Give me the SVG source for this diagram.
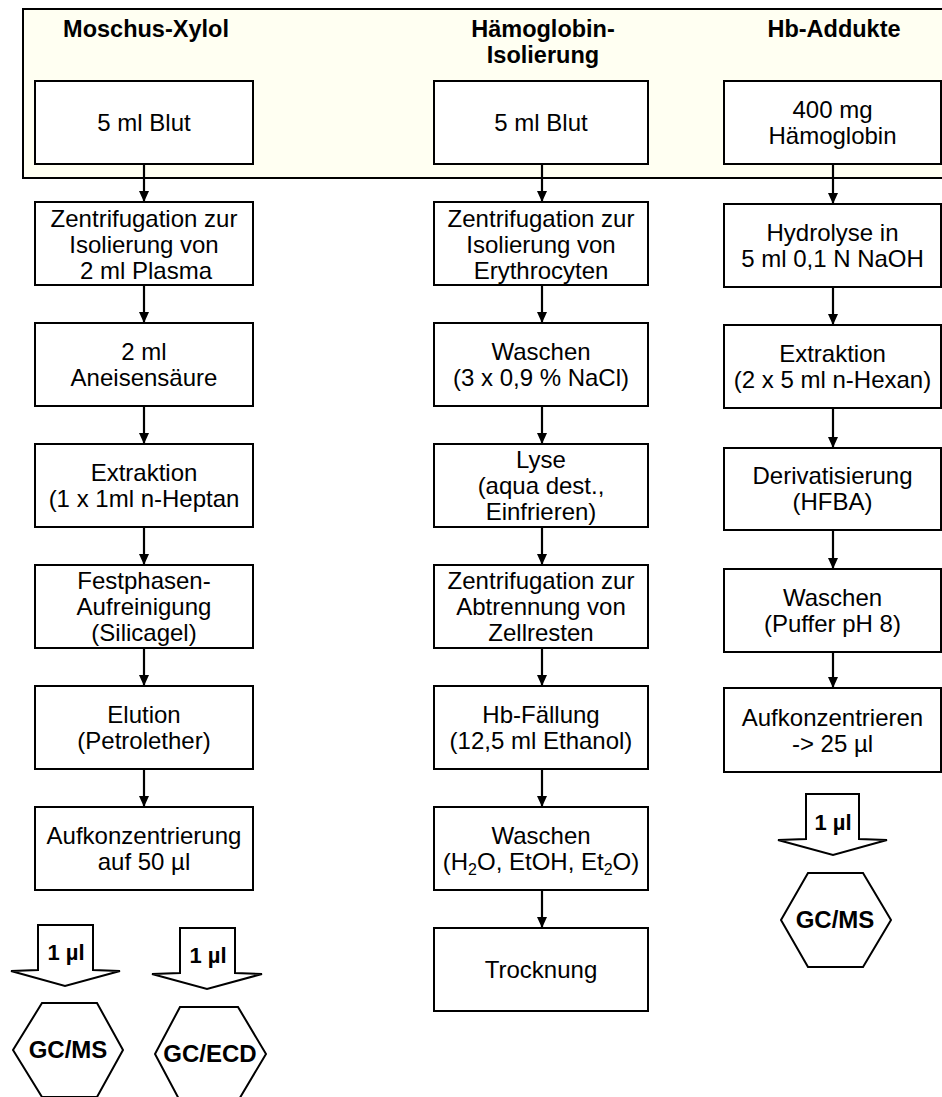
<svg xmlns="http://www.w3.org/2000/svg" width="942" height="1097" viewBox="0 0 942 1097">
<defs>
<style>
.box{fill:#fff;stroke:#000;stroke-width:2}
.t{font-family:"Liberation Sans",Arial,sans-serif;font-size:24px;fill:#000;text-anchor:middle}
.h{font-family:"Liberation Sans",Arial,sans-serif;font-size:23.5px;font-weight:bold;fill:#000;text-anchor:middle}
.b{font-family:"Liberation Sans",Arial,sans-serif;font-size:22px;font-weight:bold;fill:#000;text-anchor:middle}
.hx{font-family:"Liberation Sans",Arial,sans-serif;font-size:24px;font-weight:bold;fill:#000;text-anchor:middle}
.shape{fill:#fff;stroke:#000;stroke-width:2;stroke-linejoin:miter}
.conn line{stroke:#000;stroke-width:2.2;marker-end:url(#ah)}
.sub{font-size:16px}
</style>
<marker id="ah" viewBox="0 0 11 10" markerWidth="11" markerHeight="10" refX="11" refY="5" orient="auto" markerUnits="userSpaceOnUse">
<path d="M0,0 L11,5 L0,10 z" fill="#000"/>
</marker>
</defs>
<rect width="942" height="1097" fill="#fff"/>
<g id="panel">
<rect x="23" y="9" width="930" height="169" fill="#fffff2" stroke="#000" stroke-width="2"/>
<text class="h" x="146" y="37">Moschus-Xylol</text>
<text class="h" x="543" y="37">Hämoglobin-</text>
<text class="h" x="543" y="63">Isolierung</text>
<text class="h" x="834" y="37">Hb-Addukte</text>
</g>
<!-- Column 1 -->
<g id="c1n1"><rect class="box" x="35" y="81" width="218" height="83"/><text class="t" x="144" y="131">5 ml Blut</text></g>
<g id="c1n2"><rect class="box" x="35" y="202" width="218" height="83"/><text class="t" x="144" y="227">Zentrifugation zur</text><text class="t" x="144" y="253">Isolierung von</text><text class="t" x="146" y="279">2 ml Plasma</text></g>
<g id="c1n3"><rect class="box" x="35" y="323" width="218" height="83"/><text class="t" x="144" y="360">2 ml</text><text class="t" x="144" y="386">Aneisensäure</text></g>
<g id="c1n4"><rect class="box" x="35" y="444" width="218" height="83"/><text class="t" x="144" y="481">Extraktion</text><text class="t" x="144" y="507">(1 x 1ml n-Heptan</text></g>
<g id="c1n5"><rect class="box" x="35" y="565" width="218" height="83"/><text class="t" x="144" y="589">Festphasen-</text><text class="t" x="144" y="615">Aufreinigung</text><text class="t" x="144" y="641">(Silicagel)</text></g>
<g id="c1n6"><rect class="box" x="35" y="686" width="218" height="83"/><text class="t" x="144" y="723">Elution</text><text class="t" x="144" y="749">(Petrolether)</text></g>
<g id="c1n7"><rect class="box" x="35" y="807" width="218" height="83"/><text class="t" x="144" y="844">Aufkonzentrierung</text><text class="t" x="144" y="870">auf 50 µl</text></g>
<g id="c1a1"><path class="shape" d="M38,925 L93,925 L93,970 L120,971 L65,986 L11,971 L38,970 Z"/><text class="b" x="66" y="960">1 µl</text></g>
<g id="c1a2"><path class="shape" d="M180,928 L235,928 L235,973 L262,974 L207,989 L152,974 L180,973 Z"/><text class="b" x="208" y="963">1 µl</text></g>
<g id="c1h1"><path class="shape" d="M42,1003 L97,1003 L123,1050 L97,1097 L42,1097 L13,1050 Z"/><text class="hx" x="68" y="1058">GC/MS</text></g>
<g id="c1h2"><path class="shape" d="M180,1007 L238,1007 L266,1054 L238,1101 L180,1101 L155,1054 Z"/><text class="hx" x="210" y="1062">GC/ECD</text></g>
<!-- Column 2 -->
<g id="c2n1"><rect class="box" x="434" y="81" width="214" height="83"/><text class="t" x="541" y="131">5 ml Blut</text></g>
<g id="c2n2"><rect class="box" x="434" y="202" width="214" height="83"/><text class="t" x="541" y="227">Zentrifugation zur</text><text class="t" x="541" y="253">Isolierung von</text><text class="t" x="541" y="279">Erythrocyten</text></g>
<g id="c2n3"><rect class="box" x="434" y="323" width="214" height="83"/><text class="t" x="541" y="360">Waschen</text><text class="t" x="541" y="386">(3 x 0,9 % NaCl)</text></g>
<g id="c2n4"><rect class="box" x="434" y="444" width="214" height="83"/><text class="t" x="541" y="468">Lyse</text><text class="t" x="541" y="494">(aqua dest.,</text><text class="t" x="541" y="520">Einfrieren)</text></g>
<g id="c2n5"><rect class="box" x="434" y="565" width="214" height="83"/><text class="t" x="541" y="589">Zentrifugation zur</text><text class="t" x="541" y="615">Abtrennung von</text><text class="t" x="541" y="641">Zellresten</text></g>
<g id="c2n6"><rect class="box" x="434" y="686" width="214" height="83"/><text class="t" x="541" y="723">Hb-Fällung</text><text class="t" x="541" y="749">(12,5 ml Ethanol)</text></g>
<g id="c2n7"><rect class="box" x="434" y="807" width="214" height="83"/><text class="t" x="541" y="844">Waschen</text><text class="t" x="541" y="870">(H<tspan class="sub" dy="5">2</tspan><tspan dy="-5">O, EtOH, Et</tspan><tspan class="sub" dy="5">2</tspan><tspan dy="-5">O)</tspan></text></g>
<g id="c2n8"><rect class="box" x="434" y="928" width="214" height="83"/><text class="t" x="541" y="978">Trocknung</text></g>
<!-- Column 3 -->
<g id="c3n1"><rect class="box" x="724" y="81" width="217" height="83"/><text class="t" x="832.5" y="118">400 mg</text><text class="t" x="832.5" y="144">Hämoglobin</text></g>
<g id="c3n2"><rect class="box" x="724" y="204" width="217" height="83"/><text class="t" x="832.5" y="241">Hydrolyse in</text><text class="t" x="832.5" y="267">5 ml 0,1 N NaOH</text></g>
<g id="c3n3"><rect class="box" x="724" y="325" width="217" height="83"/><text class="t" x="832.5" y="362">Extraktion</text><text class="t" x="832.5" y="388">(2 x 5 ml n-Hexan)</text></g>
<g id="c3n4"><rect class="box" x="724" y="448" width="217" height="82"/><text class="t" x="832.5" y="484">Derivatisierung</text><text class="t" x="832.5" y="510">(HFBA)</text></g>
<g id="c3n5"><rect class="box" x="724" y="569" width="217" height="83"/><text class="t" x="832.5" y="606">Waschen</text><text class="t" x="832.5" y="632">(Puffer pH 8)</text></g>
<g id="c3n6"><rect class="box" x="724" y="688" width="217" height="84"/><text class="t" x="832.5" y="726">Aufkonzentrieren</text><text class="t" x="832.5" y="752">-&gt; 25 µl</text></g>
<g id="c3a1"><path class="shape" d="M806,794 L859,794 L859,839 L887,840 L833,855 L778,840 L806,839 Z"/><text class="b" x="833" y="830">1 µl</text></g>
<g id="c3h1"><path class="shape" d="M808,873 L863,873 L891,920 L863,967 L808,967 L781,920 Z"/><text class="hx" x="835" y="928">GC/MS</text></g>
<!-- Connectors -->
<g id="connectors" class="conn">
<line x1="144" y1="164" x2="144" y2="202"/>
<line x1="144" y1="285" x2="144" y2="323"/>
<line x1="144" y1="406" x2="144" y2="444"/>
<line x1="144" y1="527" x2="144" y2="565"/>
<line x1="144" y1="648" x2="144" y2="686"/>
<line x1="144" y1="769" x2="144" y2="807"/>
<line x1="542" y1="164" x2="542" y2="202"/>
<line x1="542" y1="285" x2="542" y2="323"/>
<line x1="542" y1="406" x2="542" y2="444"/>
<line x1="542" y1="527" x2="542" y2="565"/>
<line x1="542" y1="648" x2="542" y2="686"/>
<line x1="542" y1="769" x2="542" y2="807"/>
<line x1="542" y1="890" x2="542" y2="928"/>
<line x1="833" y1="164" x2="833" y2="204"/>
<line x1="833" y1="287" x2="833" y2="325"/>
<line x1="833" y1="408" x2="833" y2="448"/>
<line x1="833" y1="530" x2="833" y2="569"/>
<line x1="833" y1="652" x2="833" y2="688"/>
</g>
</svg>
